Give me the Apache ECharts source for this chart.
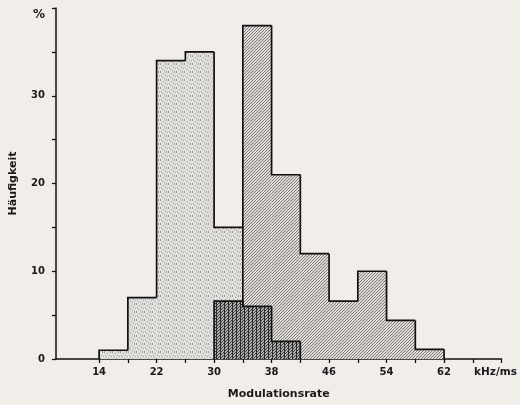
<!DOCTYPE html>
<html>
<head>
<meta charset="utf-8">
<script src="https://cdn.jsdelivr.net/npm/echarts@6/dist/echarts.min.js"></script>
<style>
html, body { margin: 0; padding: 0; background: #f1ede9; }
#chart { width: 520px; height: 405px; }
</style>
</head>
<body>
<div id="chart"></div>
<script>
'use strict';

// histogram bins: start of each 4 kHz/ms bin, height in %
var binWidth = 4;

var lightStart = [14, 18, 22, 26, 30];
var lightValues = [1, 7, 34, 35, 15];

var midStart = [34, 38, 42, 46, 50, 54, 58];
var midValues = [38, 21, 12, 6.6, 10, 4.4, 1.1];

var darkStart = [30, 34, 38];
var darkValues = [6.6, 6, 2];

var xTicks = [14, 18, 22, 26, 30, 34, 38, 42, 46, 50, 54, 58, 62, 66, 70];
var xLabels = [14, 22, 30, 38, 46, 54, 62, 70];
var xUnit = 'kHz/ms';

var textColor = '#1a1a1a';
var fontFamily = 'DejaVu Sans';

function makePattern(size, bg, draw) {
  var c = document.createElement('canvas');
  c.width = size;
  c.height = size;
  var ctx = c.getContext('2d');
  ctx.fillStyle = bg;
  ctx.fillRect(0, 0, size, size);
  draw(ctx, size);
  return { image: c, repeat: 'repeat' };
}

function diagonals(ctx, size, step, color) {
  ctx.strokeStyle = color;
  ctx.lineWidth = 1;
  for (var k = -size; k <= size * 2; k += step) {
    ctx.beginPath();
    ctx.moveTo(k, size);
    ctx.lineTo(k + size, 0);
    ctx.stroke();
  }
}

// stipple dots for the light histogram
var lightDots = [[0, 0], [3, 1], [6, 0], [1, 3], [5, 3], [7, 4], [2, 5], [4, 6], [0, 7], [6, 7]];

var lightFill = makePattern(8, '#e1dfdb', function (ctx) {
  ctx.fillStyle = '#a3a19d';
  lightDots.forEach(function (d) {
    ctx.fillRect(d[0], d[1], 1, 1);
  });
});

var midFill = makePattern(6, '#e0ddd9', function (ctx, size) {
  diagonals(ctx, size, 3, '#7c7a78');
});

var darkFill = makePattern(12, '#b3b0ac', function (ctx, size) {
  diagonals(ctx, size, 3, '#3a3a3a');
  ctx.fillStyle = '#2a2a2a';
  for (var x = 0; x < size; x += 4) {
    ctx.fillRect(x, 0, 1, size);
  }
});

function histSeries(starts, values, fill, z) {
  return {
    type: 'custom',
    z: z,
    silent: true,
    data: starts.map(function (s, i) { return [s, s + binWidth, values[i]]; }),
    encode: { x: [0, 1], y: 2 },
    renderItem: function (params, api) {
      var i = params.dataIndex;
      var base = api.coord([api.value(0), 0]);
      var top = api.coord([api.value(1), api.value(2)]);
      var prev = i > 0 ? values[i - 1] : 0;
      var prevY = api.coord([api.value(0), prev])[1];
      var line = { stroke: '#111', lineWidth: 1.7, fill: null };
      var children = [{
        type: 'rect',
        z2: 0,
        shape: { x: base[0], y: top[1], width: top[0] - base[0], height: base[1] - top[1] },
        style: { fill: fill },
      }, {
        type: 'polyline',
        z2: 10,
        shape: { points: [[base[0], prevY], [base[0], top[1]], [top[0], top[1]]] },
        style: line,
      }];
      if (i === values.length - 1) {
        children.push({
          type: 'line',
          z2: 10,
          shape: { x1: top[0], y1: top[1], x2: top[0], y2: base[1] },
          style: line,
        });
      }
      return { type: 'group', children: children };
    },
  };
}

var myChart = echarts.init(document.getElementById('chart'));
myChart.setOption({
  backgroundColor: '#f1ede9',
  animation: false,
  grid: {
    left: 54,
    right: 17,
    top: 8,
    bottom: 45,
  },
  textStyle: { fontFamily: fontFamily },
  xAxis: {
    type: 'value',
    min: 8,
    max: 70,
    name: 'Modulationsrate',
    nameLocation: 'middle',
    nameGap: 30,
    nameTextStyle: { color: textColor, fontWeight: 'bold', fontSize: 11, fontFamily: fontFamily },
    splitLine: { show: false },
    axisLine: { lineStyle: { color: '#111', width: 1.5 } },
    axisTick: { customValues: xTicks, length: 4, lineStyle: { color: '#111', width: 1.3 } },
    axisLabel: {
      customValues: xLabels,
      margin: 8,
      color: textColor,
      fontWeight: 'bold',
      fontSize: 10,
      fontFamily: fontFamily,
      formatter: function (v) {
        return v === 70 ? '{u|' + xUnit + '}' : String(v);
      },
      rich: {
        u: { color: textColor, fontWeight: 'bold', fontSize: 10.5, fontFamily: fontFamily, padding: [0, 12, 0, 0] },
      },
    },
  },
  yAxis: {
    type: 'value',
    min: 0,
    max: 40,
    interval: 5,
    name: 'Häufigkeit',
    nameLocation: 'middle',
    nameRotate: 90,
    nameGap: 37,
    nameTextStyle: { color: textColor, fontWeight: 'bold', fontSize: 11, fontFamily: fontFamily },
    splitLine: { show: false },
    axisLine: { show: true, lineStyle: { color: '#111', width: 1.5 } },
    axisTick: { show: true, length: 4, lineStyle: { color: '#111', width: 1.3 } },
    axisLabel: {
      margin: 11,
      color: textColor,
      fontWeight: 'bold',
      fontSize: 10,
      fontFamily: fontFamily,
      formatter: function (v) {
        if (v === 40) return '{p|%}';
        return v % 10 === 0 ? String(v) : '';
      },
      rich: {
        p: { color: textColor, fontWeight: 'bold', fontSize: 12, fontFamily: fontFamily, padding: [14, 0, 0, 0] },
      },
    },
  },
  series: [
    histSeries(lightStart, lightValues, lightFill, 2),
    histSeries(midStart, midValues, midFill, 3),
    histSeries(darkStart, darkValues, darkFill, 4),
  ],
});
</script>
</body>
</html>
